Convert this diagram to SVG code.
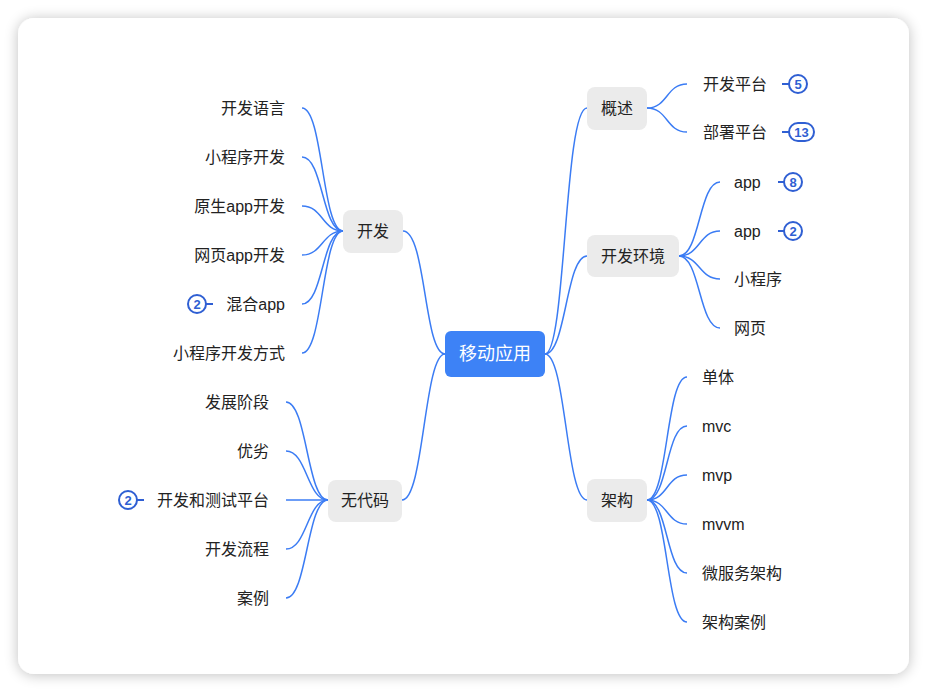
<svg xmlns="http://www.w3.org/2000/svg" width="927" height="692" viewBox="0 0 927 692">
<defs>
<filter id="sh" x="-10%" y="-10%" width="120%" height="120%">
<feGaussianBlur in="SourceAlpha" stdDeviation="7"/>
<feOffset dx="0" dy="1"/>
<feComponentTransfer><feFuncA type="linear" slope="0.25"/></feComponentTransfer>
<feMerge><feMergeNode/><feMergeNode in="SourceGraphic"/></feMerge>
</filter>
<style>
.t{font-family:"Liberation Sans","Noto Sans CJK SC",sans-serif;font-size:16px;fill:#222;dominant-baseline:central}
.r{text-anchor:end}
.nb{fill:#ebebeb}
.c{fill:none;stroke:#3b7cf4;stroke-width:1.5}
.bc{fill:#fff;stroke:#2f5fd3;stroke-width:2}
.bl{stroke:#2f5fd3;stroke-width:2}
.bt{font-family:"Liberation Sans",sans-serif;font-size:13px;font-weight:bold;fill:#2f5fd3;text-anchor:middle;dominant-baseline:central}
</style>
</defs>
<rect x="0" y="0" width="927" height="692" fill="#ffffff"/>
<rect x="18" y="18" width="891" height="656" rx="16" fill="#ffffff" filter="url(#sh)"/>
<g id="connectors">
<path class="c" d="M545,354 C566,354 564,108 587,108"/>
<path class="c" d="M545,354 C566,354 566,256 587,256"/>
<path class="c" d="M545,354 C566,354 566,500 587,500"/>
<path class="c" d="M445,354 C424,354 426,231 403,231"/>
<path class="c" d="M445,354 C424,354 424,500 402,500"/>
<path class="c" d="M647,108 C668,108 666,84 687,84"/>
<path class="c" d="M647,108 C668,108 666,132 687,132"/>
<path class="c" d="M679,256 C700,256 699,182 720,182"/>
<path class="c" d="M679,256 C700,256 699,231 720,231"/>
<path class="c" d="M679,256 C700,256 699,279 720,279"/>
<path class="c" d="M679,256 C700,256 699,328 720,328"/>
<path class="c" d="M647,500 C668,500 666,377 687,377"/>
<path class="c" d="M647,500 C668,500 666,426 687,426"/>
<path class="c" d="M647,500 C668,500 666,475 687,475"/>
<path class="c" d="M647,500 C668,500 666,524 687,524"/>
<path class="c" d="M647,500 C668,500 666,573 687,573"/>
<path class="c" d="M647,500 C668,500 666,622 687,622"/>
<path class="c" d="M343,231 C322,231 323,108 302,108"/>
<path class="c" d="M343,231 C322,231 323,157 302,157"/>
<path class="c" d="M343,231 C322,231 323,206 302,206"/>
<path class="c" d="M343,231 C322,231 323,255 302,255"/>
<path class="c" d="M343,231 C322,231 323,304 302,304"/>
<path class="c" d="M343,231 C322,231 323,353 302,353"/>
<path class="c" d="M328,500 C307,500 307,402 286,402"/>
<path class="c" d="M328,500 C307,500 307,451 286,451"/>
<path class="c" d="M328,500 L286,500"/>
<path class="c" d="M328,500 C307,500 307,549 286,549"/>
<path class="c" d="M328,500 C307,500 307,598 286,598"/>
</g>
<g id="root"><rect x="445" y="331" width="100" height="46" rx="6" fill="#3d82f6"/><text x="495" y="354" font-family="Liberation Sans,Noto Sans CJK SC,sans-serif" font-size="18" fill="#fff" text-anchor="middle" dominant-baseline="central">移动应用</text></g>
<g id="n-gaishu"><rect class="nb" x="587" y="87" width="60" height="43" rx="8"/><text class="t" x="617" y="108" text-anchor="middle">概述</text></g>
<g id="n-kfhj"><rect class="nb" x="587" y="235" width="92" height="42" rx="8"/><text class="t" x="633" y="256" text-anchor="middle">开发环境</text></g>
<g id="n-jiagou"><rect class="nb" x="587" y="479" width="60" height="43" rx="8"/><text class="t" x="617" y="500" text-anchor="middle">架构</text></g>
<g id="n-kaifa"><rect class="nb" x="343" y="210" width="60" height="43" rx="8"/><text class="t" x="373" y="231" text-anchor="middle">开发</text></g>
<g id="n-wudaima"><rect class="nb" x="328" y="480" width="74" height="42" rx="8"/><text class="t" x="365" y="500" text-anchor="middle">无代码</text></g>
<g id="l-kfpt"><text class="t" x="703" y="84">开发平台</text><line class="bl" x1="782" y1="84" x2="789" y2="84"/><circle class="bc" cx="798" cy="84" r="9"/><text class="bt" x="798" y="84">5</text></g>
<g id="l-bspt"><text class="t" x="703" y="132">部署平台</text><line class="bl" x1="782" y1="132" x2="789" y2="132"/><rect class="bc" x="789" y="123" width="25" height="18" rx="9"/><text class="bt" x="801.5" y="132">13</text></g>
<g id="l-app1"><text class="t" x="734" y="182">app</text><line class="bl" x1="778" y1="182" x2="785" y2="182"/><circle class="bc" cx="793" cy="182" r="9"/><text class="bt" x="793" y="182">8</text></g>
<g id="l-app2"><text class="t" x="734" y="231">app</text><line class="bl" x1="778" y1="231" x2="785" y2="231"/><circle class="bc" cx="793" cy="231" r="9"/><text class="bt" x="793" y="231">2</text></g>
<g id="l-xcx"><text class="t" x="734" y="279">小程序</text></g>
<g id="l-wy"><text class="t" x="734" y="328">网页</text></g>
<g id="l-dt"><text class="t" x="702" y="377">单体</text></g>
<g id="l-mvc"><text class="t" x="702" y="426">mvc</text></g>
<g id="l-mvp"><text class="t" x="702" y="475">mvp</text></g>
<g id="l-mvvm"><text class="t" x="702" y="524">mvvm</text></g>
<g id="l-wfw"><text class="t" x="702" y="573">微服务架构</text></g>
<g id="l-jgal"><text class="t" x="702" y="622">架构案例</text></g>
<g id="l-kfyy"><text class="t r" x="285" y="108">开发语言</text></g>
<g id="l-xcxkf"><text class="t r" x="285" y="157">小程序开发</text></g>
<g id="l-ys"><text class="t r" x="285" y="206">原生app开发</text></g>
<g id="l-wyapp"><text class="t r" x="285" y="255">网页app开发</text></g>
<g id="l-hh"><text class="t r" x="285" y="304">混合app</text><line class="bl" x1="206" y1="304" x2="213" y2="304"/><circle class="bc" cx="197" cy="304" r="9"/><text class="bt" x="197" y="304">2</text></g>
<g id="l-xcxfs"><text class="t r" x="285" y="353">小程序开发方式</text></g>
<g id="l-fzjd"><text class="t r" x="269" y="402">发展阶段</text></g>
<g id="l-yl"><text class="t r" x="269" y="451">优劣</text></g>
<g id="l-kfcs"><text class="t r" x="269" y="500">开发和测试平台</text><line class="bl" x1="137" y1="500" x2="144" y2="500"/><circle class="bc" cx="128" cy="500" r="9"/><text class="bt" x="128" y="500">2</text></g>
<g id="l-kflc"><text class="t r" x="269" y="549">开发流程</text></g>
<g id="l-al"><text class="t r" x="269" y="598">案例</text></g>
</svg>
